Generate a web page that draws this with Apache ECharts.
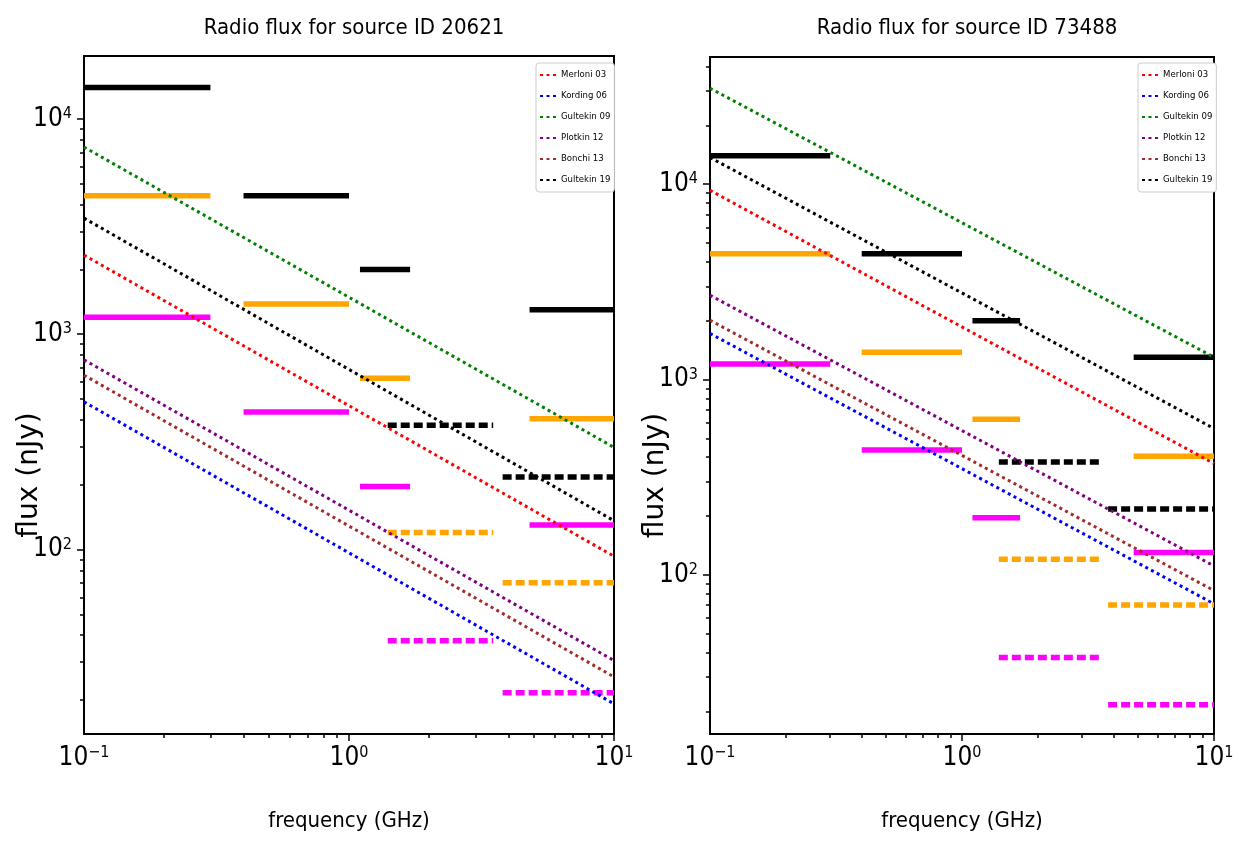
<!doctype html>
<html>
<head>
<meta charset="utf-8">
<title>Radio flux</title>
<script src="https://cdn.jsdelivr.net/npm/echarts@6/dist/echarts.min.js"></script>
<style>
  html, body { margin: 0; padding: 0; background: #fff; }
  #main { width: 1239px; height: 845px; }
</style>
</head>
<body>
<div id="main"></div>
<script>
// sources
var sourceIds = ['20621', '73488'];

// model predictions (nJy at 0.1 GHz and at 10 GHz)
var modelNames = ['Merloni 03', 'Kording 06', 'Gultekin 09', 'Plotkin 12', 'Bonchi 13', 'Gultekin 19'];
var modelColors = ['#ff0000', '#0000ff', '#008000', '#800080', '#a52a2a', '#000000'];
var modelFreq = [0.1, 10];
var modelLeft = [[2330, 93], [485, 19.2], [7400, 298], [760, 30.5], [645, 25.6], [3460, 136]];
var modelRight = [[9300, 371], [1720, 71], [31000, 1300], [2700, 111], [2010, 83], [13700, 561]];

// survey bands (GHz) and flux levels (nJy)
var solidBands = [[0.1, 0.3], [0.4, 1.0], [1.1, 1.7], [4.8, 10]];
var dashBands = [[1.4, 3.5], [3.8, 10]];
var blackSolid = [14000, 4400, 2000, 1300];
var orangeSolid = [4400, 1380, 625, 405];
var magentaSolid = [1200, 435, 196, 130];
var blackDash = [378, 217];
var orangeDash = [120, 70];
var magentaDash = [37.7, 21.6];

// axis ranges
var xRange = [0.1, 10];
var yRanges = [[13.9, 19600], [15.3, 44800]];
var minorMult = [2, 3, 4, 5, 6, 7, 8, 9];

var FONT = "'DejaVu Sans Condensed', 'DejaVu Sans', sans-serif";
var grids = [
  { left: 84, top: 56, width: 530, height: 678 },
  { left: 710, top: 57, width: 504, height: 677 }
];

function log10(v) { return Math.log(v) / Math.LN10; }

function majorTicks(lo, hi) {
  var out = [];
  for (var d = Math.ceil(lo - 1e-9); d <= Math.floor(hi + 1e-9); d++) out.push(d);
  return out;
}
function minorTicks(lo, hi) {
  var out = [];
  for (var d = Math.floor(lo) - 1; d <= Math.ceil(hi); d++) {
    minorMult.forEach(function (m) {
      var v = d + log10(m);
      if (v > lo && v < hi) out.push(v);
    });
  }
  return out;
}
function powLabel(v) {
  var e = Math.round(log10(v));
  return '{b|10}{s|' + (e < 0 ? '\u2212' + (-e) : e) + '}';
}
var labelRich = {
  b: { fontSize: 26, fontFamily: FONT, color: '#000' },
  s: { fontSize: 16, fontFamily: FONT, color: '#000', verticalAlign: 'top' }
};

var xAxes = [], yAxes = [], overlayX = [], overlayY = [];
grids.forEach(function (g, i) {
  xAxes.push({
    type: 'log', logBase: 10, gridIndex: i, min: xRange[0], max: xRange[1],
    name: 'frequency (GHz)', nameLocation: 'middle', nameGap: 76,
    nameTextStyle: { fontSize: 22, fontFamily: FONT, color: '#000' },
    axisLine: { onZero: false, lineStyle: { color: '#000', width: 2 } },
    axisTick: { show: false },
    axisLabel: { margin: 11, formatter: powLabel, rich: labelRich },
    splitLine: { show: false }
  });
  yAxes.push({
    type: 'log', logBase: 10, gridIndex: i, min: yRanges[i][0], max: yRanges[i][1],
    name: 'flux (nJy)', nameLocation: 'middle', nameGap: 40, nameRotate: 90, nameMoveOverlap: false,
    nameTextStyle: { fontSize: 28, fontFamily: "'DejaVu Sans', sans-serif", color: '#000', padding: [0, 160, 0, 0] },
    axisLine: { onZero: false, lineStyle: { color: '#000', width: 2 } },
    axisTick: { show: false },
    axisLabel: { margin: 12, showMinLabel: false, showMaxLabel: false, formatter: powLabel, rich: labelRich },
    splitLine: { show: false }
  });
  var xl = log10(xRange[0]), xh = log10(xRange[1]);
  var yl = log10(yRanges[i][0]), yh = log10(yRanges[i][1]);
  [[majorTicks(xl, xh), 7], [minorTicks(xl, xh), 4]].forEach(function (t) {
    overlayX.push({
      type: 'value', gridIndex: i, position: 'bottom', min: xl, max: xh,
      axisLine: { show: false, onZero: false }, axisLabel: { show: false }, splitLine: { show: false },
      axisTick: { show: true, customValues: t[0], length: t[1], lineStyle: { color: '#000', width: 1.5 } }
    });
  });
  [[majorTicks(yl, yh), 7], [minorTicks(yl, yh), 4]].forEach(function (t) {
    overlayY.push({
      type: 'value', gridIndex: i, position: 'left', min: yl, max: yh,
      axisLine: { show: false, onZero: false }, axisLabel: { show: false }, splitLine: { show: false },
      axisTick: { show: true, customValues: t[0], length: t[1], lineStyle: { color: '#000', width: 1.5 } }
    });
  });
});

function segSeries(g, bands, levels, color, dashed) {
  return bands.map(function (b, k) {
    return {
      type: 'line', name: 'obs', xAxisIndex: g, yAxisIndex: g, silent: true,
      data: [[b[0], levels[k]], [b[1], levels[k]]], symbol: 'none', z: 2,
      lineStyle: { color: color, width: 5.5, type: dashed ? [9, 4] : 'solid', cap: 'butt' }
    };
  });
}
function modelSeries(g, vals) {
  return modelNames.map(function (n, k) {
    return {
      type: 'line', name: n, xAxisIndex: g, yAxisIndex: g, silent: true,
      data: [[modelFreq[0], vals[k][0]], [modelFreq[1], vals[k][1]]], symbol: 'none', z: 3,
      itemStyle: { color: modelColors[k] },
      lineStyle: { color: modelColors[k], width: 3, type: [3, 3.5] }
    };
  });
}

var series = [];
[modelLeft, modelRight].forEach(function (vals, g) {
  series = series.concat(
    segSeries(g, solidBands, blackSolid, '#000000', false),
    segSeries(g, solidBands, orangeSolid, '#ffa500', false),
    segSeries(g, solidBands, magentaSolid, '#ff00ff', false),
    segSeries(g, dashBands, blackDash, '#000000', true),
    segSeries(g, dashBands, orangeDash, '#ffa500', true),
    segSeries(g, dashBands, magentaDash, '#ff00ff', true),
    modelSeries(g, vals)
  );
});

function legendAt(left) {
  return {
    orient: 'vertical', left: left, top: 63, itemWidth: 16, itemHeight: 8, itemGap: 11,
    padding: [7, 4, 7, 3], backgroundColor: '#fff', borderColor: '#cccccc', borderWidth: 1, borderRadius: 3,
    itemStyle: { opacity: 0 },
    textStyle: { fontSize: 9.5, fontFamily: FONT, color: '#000' },
    data: modelNames, selectedMode: false
  };
}

var chart = echarts.init(document.getElementById('main'));
chart.setOption({
  animation: false,
  backgroundColor: '#fff',
  title: grids.map(function (g, i) {
    return {
      text: 'Radio flux for source ID ' + sourceIds[i], left: g.left + g.width / 2, top: 12, textAlign: 'center',
      textStyle: { fontSize: 22, fontWeight: 'normal', fontFamily: FONT, color: '#000' }
    };
  }),
  legend: [legendAt(536), legendAt(1138)],
  grid: grids.map(function (g) {
    return {
      left: g.left, top: g.top, width: g.width, height: g.height, outerBoundsMode: 'none',
      show: true, borderColor: '#000', borderWidth: 2, backgroundColor: 'transparent'
    };
  }),
  xAxis: xAxes.concat(overlayX),
  yAxis: yAxes.concat(overlayY),
  series: series
});
</script>
</body>
</html>
